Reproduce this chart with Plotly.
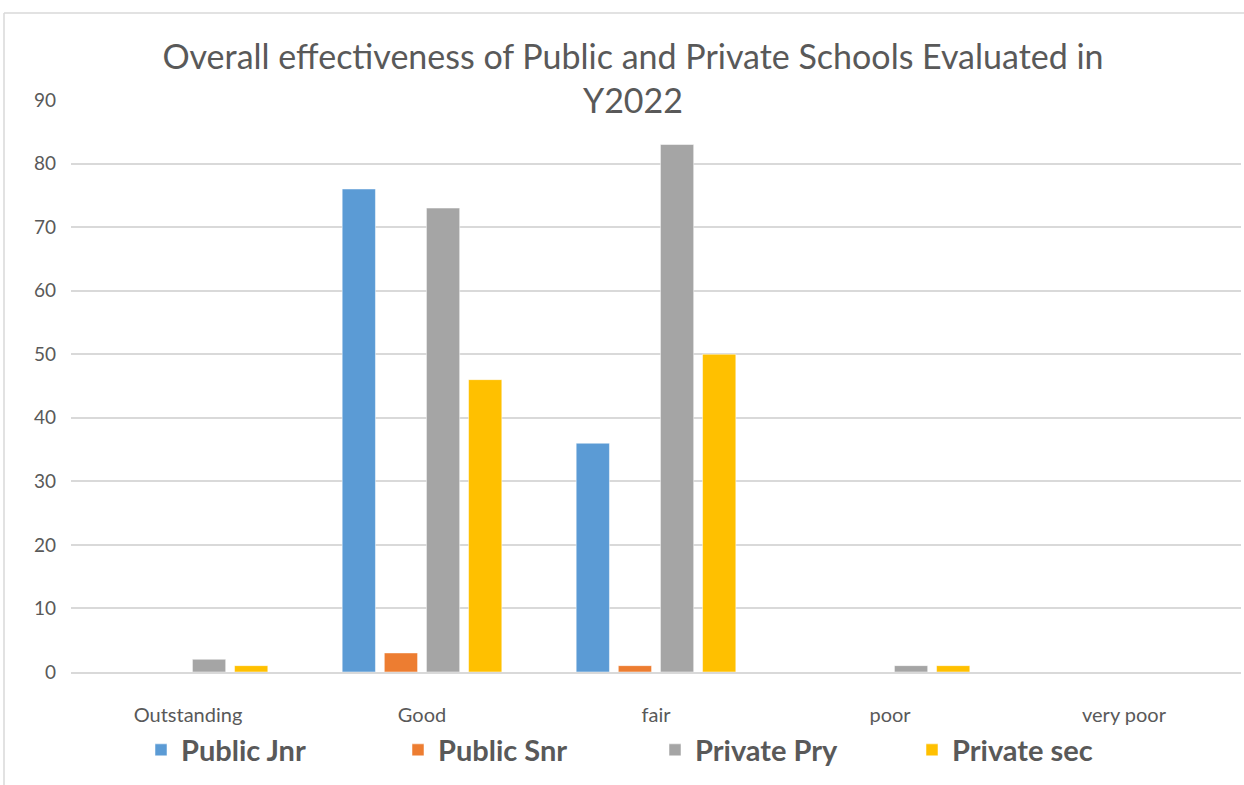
import plotly.graph_objects as go

categories = ["Outstanding", "Good", "fair", "poor", "very poor"]
public_jnr = [0, 76, 36, 0, 0]
public_snr = [0, 3, 1, 0, 0]
private_pry = [2, 73, 83, 1, 0]
private_sec = [1, 46, 50, 1, 0]
series_names = ["Public Jnr", "Public Snr", "Private Pry", "Private sec"]
series_colors = ["#5B9BD5", "#ED7D31", "#A5A5A5", "#FFC000"]
y_ticks = list(range(0, 91, 10))

W, H = 1244, 785
ml, mr, mt, mb = 71, 3, 100, 113
pw, ph = W - ml - mr, H - mt - mb

fig = go.Figure()
for name, vals, col in zip(series_names, [public_jnr, public_snr, private_pry, private_sec], series_colors):
    fig.add_trace(go.Bar(
        x=categories, y=vals, name=name,
        marker=dict(color=col, line=dict(color="rgba(255,255,255,0.5)", width=1)),
    ))

def px_x(x):
    return (x - ml) / pw

def px_y(y):
    return (H - mb - y) / ph

fig.update_layout(
    width=W, height=H,
    margin=dict(l=ml, r=mr, t=mt, b=mb),
    paper_bgcolor="white", plot_bgcolor="white",
    barmode="group", bargap=0.28, bargroupgap=0.21,
    title=dict(
        text="Overall effectiveness of Public and Private Schools Evaluated in<br>Y2022",
        x=(633) / W, xanchor="center", y=1 - 69 / H, yanchor="middle",
        font=dict(family="Lato", size=34, color="#595959"),
    ),
    font=dict(family="Lato", color="#595959"),
    xaxis=dict(
        showgrid=False, showline=True, linecolor="#d9d9d9", linewidth=1.5,
        tickfont=dict(size=20, color="#595959"), ticks="", ticklabelstandoff=24,
    ),
    yaxis=dict(
        range=[0, 90], tickvals=y_ticks, showgrid=True, gridcolor="#d9d9d9", gridwidth=1.5,
        zeroline=False, showline=False, tickfont=dict(size=19, color="#595959"),
        ticks="", ticklabelstandoff=14,
    ),
    legend=dict(
        orientation="h", x=px_x(655), xanchor="center", y=px_y(750), yanchor="middle",
        font=dict(family="Lato", size=29, color="#595959", weight="bold"),
        itemwidth=30, tracegroupgap=0, entrywidth=212, entrywidthmode="pixels",
    ),
    shapes=[
        dict(type="line", xref="paper", yref="paper", x0=px_x(4), x1=px_x(4), y0=px_y(13), y1=px_y(790),
             line=dict(color="#d9d9d9", width=1.5)),
        dict(type="line", xref="paper", yref="paper", x0=px_x(4), x1=px_x(1250), y0=px_y(13), y1=px_y(13),
             line=dict(color="#d9d9d9", width=1.5)),
    ],
)

fig.write_html("out.html")
